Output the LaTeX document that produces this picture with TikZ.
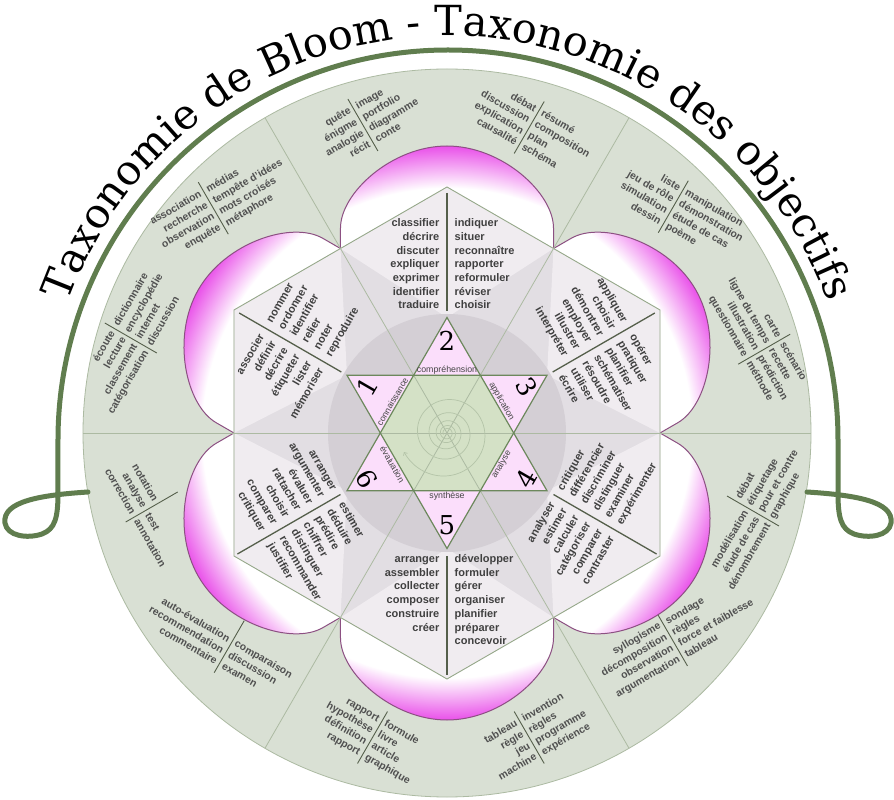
\documentclass[tikz,border=0pt]{standalone}
\usepackage{fontspec}
\setmainfont{Liberation Sans}
\newfontfamily\titlefont{DejaVu Serif}
\usetikzlibrary{decorations.text,arrows.meta}

\definecolor{ringfill}{RGB}{217,224,212}
\definecolor{ringline}{RGB}{172,186,162}
\definecolor{kitefill}{RGB}{240,236,240}
\definecolor{trifill}{RGB}{226,222,227}
\definecolor{diskfill}{RGB}{212,207,213}
\definecolor{starpink}{RGB}{251,222,251}
\definecolor{stargreen}{RGB}{212,225,198}
\definecolor{starline}{RGB}{108,136,92}
\definecolor{hexline}{RGB}{150,168,138}
\definecolor{petalpink}{RGB}{232,72,232}
\definecolor{petalline}{RGB}{140,80,130}
\definecolor{sepcol}{RGB}{85,95,75}
\definecolor{kitetext}{RGB}{64,64,64}
\definecolor{ringtext}{RGB}{80,80,80}
\definecolor{labeltext}{RGB}{70,70,70}
\definecolor{titlegreen}{RGB}{96,125,78}
\definecolor{spiralcol}{RGB}{180,196,168}

\pgfdeclareradialshading{petalshade}{\pgfpoint{0bp}{0bp}}{color(0bp)=(white); color(244bp)=(white); color(288bp)=(petalpink); color(300bp)=(petalpink)}

\tikzset{
  kt/.style={font=\bfseries\fontsize{11}{13}\selectfont, text=kitetext, inner sep=0pt, transform shape},
  rt/.style={font=\bfseries\fontsize{10.4}{12}\selectfont, text=ringtext, inner sep=0pt, transform shape},
  ksep/.style={draw=sepcol, line width=1.3pt},
  rsep/.style={draw=sepcol, line width=0.9pt},
  radline/.style={draw=ringline, line width=0.8pt},
  petaledge/.style={draw=petalline, line width=1pt},
  lbl/.style={font=\fontsize{8.8}{9}\selectfont, text=labeltext, inner sep=0pt},
  dig/.style={font=\titlefont\fontsize{26}{26}\selectfont, text=black, inner sep=0pt},
  titlearc/.style={draw=titlegreen, line width=5pt, line cap=round},
}

\newcommand\upkite[4]{%
  \begin{scope}[rotate=#2]
    \draw[ksep] (0,240) -- (0,122);
    \foreach \w [count=\i] in {#3} \node[kt, anchor=base east] (#1l\i) at (-7.5,{206.3-13.67*(\i-1)}) {\w};
    \foreach \w [count=\i] in {#4} \node[kt, anchor=base west] (#1r\i) at (7.5,{206.3-13.67*(\i-1)}) {\w};
  \end{scope}}
\newcommand\downkite[4]{%
  \begin{scope}[rotate=#2]
    \draw[ksep] (0,-123) -- (0,-242);
    \foreach \w [count=\i] in {#3} \node[kt, anchor=base east] (#1l\i) at (-7.5,{-129.5-13.7*(\i-1)}) {\w};
    \foreach \w [count=\i] in {#4} \node[kt, anchor=base west] (#1r\i) at (7.5,{-129.5-13.7*(\i-1)}) {\w};
  \end{scope}}
\newcommand\ringgroup[8]{%
  \begin{scope}[shift={(#2,#3)}, rotate=#4]
    \draw[rsep] (0,30) -- (0,-30);
    \foreach \w [count=\i] in {#6} \node[rt, anchor=base east] (#1l\i) at (-3.5,{15.9-12.9*(\i+#5-1)}) {\w};
    \foreach \w [count=\i] in {#8} \node[rt, anchor=base west] (#1r\i) at (3.5,{15.9-12.9*(\i+#7-1)}) {\w};
  \end{scope}}

\begin{document}
\begin{tikzpicture}[x=1pt,y=1pt]
\useasboundingbox (-447,-367) rectangle (447,433);
\fill[white] (-447,-367) rectangle (447,433);

% outer ring
\fill[ringfill] (0,0) circle[radius=364];
\draw[ringline, line width=0.8pt] (0,0) circle[radius=364];

% ring text groups
\ringgroup{ga}{-84.1}{308.0}{30}{0}{quête,énigme,analogie,récit}{0}{image,portfolio,diagramme,conte}
\ringgroup{gb}{82.2}{305.5}{-30}{0}{débat,discussion,explication,causalité}{0}{résumé,composition,plan,schéma}
\ringgroup{gc}{-233.7}{224.8}{30}{0}{association,recherche,observation,enquête}{0}{médias,tempête d'idées,mots croisés,métaphore}
\ringgroup{gd}{-316.2}{95}{60}{0}{écoute,lecture,classement,catégorisation}{0}{dictionnaire,encyclopédie,internet,discussion}
\ringgroup{ge}{226.3}{226.3}{-30}{0}{liste,jeu de rôle,simulation,dessin}{0}{manipulation,démonstration,étude de cas,poème}
\ringgroup{gf}{317.2}{83.8}{-60}{0}{carte,ligne du temps,illustration,questionnaire}{0}{scénario,recette,prédiction,méthode}
\ringgroup{gg}{306}{-78}{60}{1}{modélisation,étude de cas,dénombrement}{0}{débat,étiquetage,pour et contre,graphique}
\ringgroup{gh}{225.5}{-207}{30}{0}{syllogisme,décomposition,observation,argumentation}{0}{sondage,règles,force et faiblesse,tableau}
\ringgroup{gi}{82.2}{-304.5}{30}{0}{tableau,règle,jeu,machine}{0}{invention,règles,programme,expérience}
\ringgroup{gj}{-74.5}{-304.5}{-30}{0}{rapport,hypothèse,définition,rapport}{0}{formule,livre,article,graphique}
\ringgroup{gk}{-217.8}{-213.7}{-30}{1}{auto-évaluation,recommendation,commentaire}{1}{comparaison,discussion,examen}
\ringgroup{gl}{-295.3}{-74}{-60}{1}{notation,analyse,correction}{2}{test,annotation}

% petals
\foreach \k in {0,...,5} {
  \begin{scope}[rotate=60*\k]
    \begin{scope}
      \clip (-106.5,184.5) -- (-106.5,205) .. controls (-106.5,240) and (-55,287) .. (0,287) .. controls (55,287) and (106.5,240) .. (106.5,205) -- (106.5,184.5) -- (0,0) -- cycle;
      \node[inner sep=0pt, outer sep=0pt] (shade\k) at (0,0) {\pgfuseshading{petalshade}};
    \end{scope}
    \draw[petaledge] (-106.5,184.5) -- (-106.5,205) .. controls (-106.5,240) and (-55,287) .. (0,287) .. controls (55,287) and (106.5,240) .. (106.5,205) -- (106.5,184.5);
  \end{scope}
}

% hexagon, kites
\fill[trifill] (90:246) -- (30:246) -- (-30:246) -- (-90:246) -- (-150:246) -- (150:246) -- cycle;
\foreach \a in {90,30,-30,-90,-150,150}
  \fill[kitefill] (\a:246) -- ({\a+30}:213) -- (\a:115.5) -- ({\a-30}:213) -- cycle;
\draw[hexline, line width=0.9pt] (90:246) -- (30:246) -- (-30:246) -- (-90:246) -- (-150:246) -- (150:246) -- cycle;

% central disk
\fill[diskfill] (0,0) circle[radius=119];

% star fills
\fill[starpink] (90:115.5) -- (210:115.5) -- (330:115.5) -- cycle;
\fill[starpink] (30:115.5) -- (150:115.5) -- (270:115.5) -- cycle;
\fill[stargreen] (0:66.7) -- (60:66.7) -- (120:66.7) -- (180:66.7) -- (240:66.7) -- (300:66.7) -- cycle;

% radial lines
\foreach \a in {0,60,...,300} \draw[radline] (0,0) -- (\a:364);

% spiral
\draw[draw=spiralcol, line width=0.7pt, -{To[length=3pt,width=5pt]}]
  plot[domain=0:1800, samples=300, smooth] ({47*exp(-0.5*(1800-\x)/360)*cos(204+1800-\x)}, {47*exp(-0.5*(1800-\x)/360)*sin(204+1800-\x)});

% star outlines
\draw[starline, line width=1.2pt, line join=miter] (90:115.5) -- (210:115.5) -- (330:115.5) -- cycle;
\draw[starline, line width=1.2pt, line join=miter] (30:115.5) -- (150:115.5) -- (270:115.5) -- cycle;

% kite texts
\upkite{kt}{0}{classifier,décrire,discuter,expliquer,exprimer,identifier,traduire}{indiquer,situer,reconnaître,rapporter,reformuler,réviser,choisir}
\upkite{kul}{60}{associer,définir,décrire,étiqueter,lister,mémoriser}{nommer,ordonner,identifier,relier,noter,reproduire}
\upkite{kur}{-60}{appliquer,choisir,démontrer,employer,illustrer,interpréter}{opérer,pratiquer,planifier,schématiser,résoudre,utiliser,écrire}
\downkite{kb}{0}{arranger,assembler,collecter,composer,construire,créer}{développer,formuler,gérer,organiser,planifier,préparer,concevoir}
\downkite{klr}{60}{analyser,estimer,calculer,catégoriser,comparer,contraster}{critiquer,différencier,discriminer,distinguer,examiner,expérimenter}
\downkite{kll}{-60}{arranger,argumenter,évaluer,rattacher,choisir,comparer,critiquer}{estimer,déduire,prédire,chiffrer,distinguer,recommander,justifier}

% star labels
\node[lbl] (lab2) at (90:63) {compréhension};
\node[lbl, rotate=-60] (lab3) at (30:63) {application};
\node[lbl, rotate=60] (lab4) at (-30:63) {analyse};
\node[lbl] (lab5) at (-90:63) {synthèse};
\node[lbl, rotate=-60] (lab6) at (-150:63) {évaluation};
\node[lbl, rotate=60] (lab1) at (150:63) {connaissance};

\node[dig] (n2) at (90:92) {2};
\node[dig, rotate=-60] (n3) at (30:92) {3};
\node[dig, rotate=60] (n4) at (-30:92) {4};
\node[dig] (n5) at (-90:92) {5};
\node[dig, rotate=-60] (n6) at (-150:92) {6};
\node[dig, rotate=60] (n1) at (150:92) {1};

% title arc
\coordinate (gL) at (-359,-59);
\coordinate (gR) at (360,-59);
\draw[titlearc] (gL) .. controls (-405,-62) and (-445,-68) .. (-442,-90)
  .. controls (-440,-103) and (-420,-106) .. (-405,-101)
  .. controls (-392,-96) and (-389,-85) .. (-389,-60) -- (-389,-7)
  arc[start angle=180, end angle=0, radius=390] -- (391,-60)
  .. controls (391,-85) and (394,-96) .. (407,-101)
  .. controls (422,-106) and (442,-103) .. (444,-90)
  .. controls (447,-68) and (407,-62) .. (gR);

\path[decorate, decoration={text along path, text align=center,
  text={|\titlefont\fontsize{41.5}{42}\selectfont|Taxonomie de Bloom - Taxonomie des objectifs}}]
  (1,-7) ++(166:404) arc[start angle=166, end angle=14, radius=404];
\end{tikzpicture}
\end{document}
